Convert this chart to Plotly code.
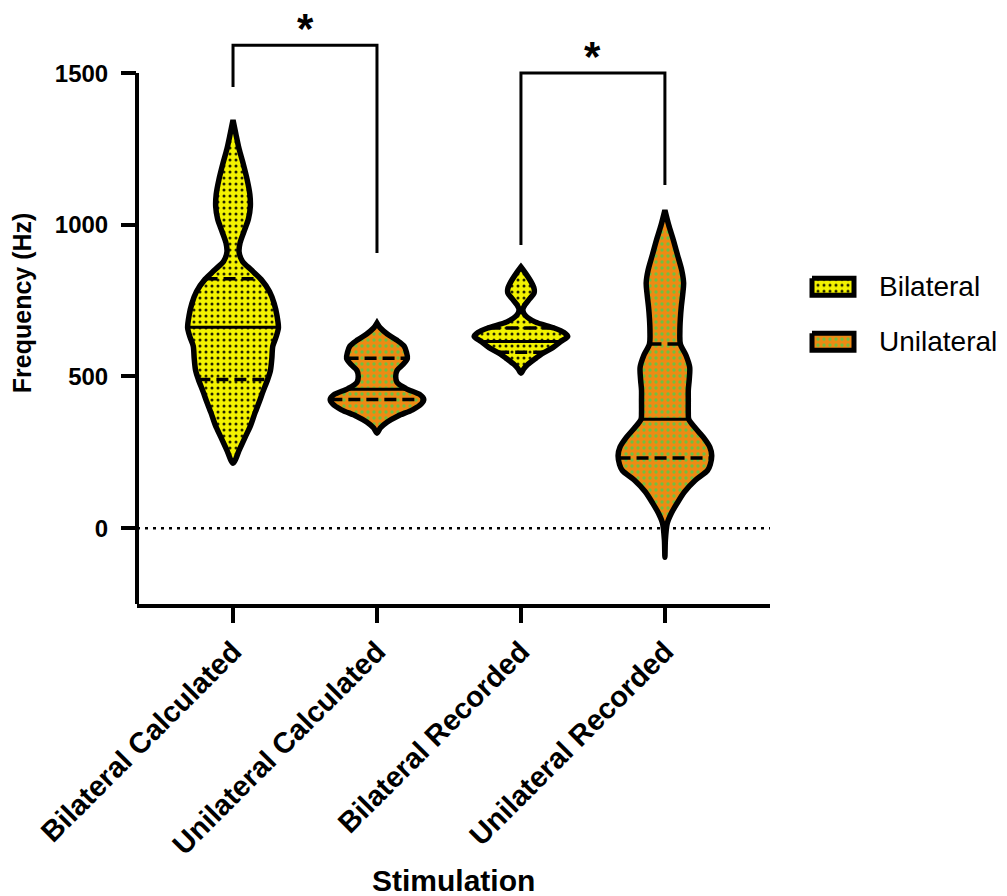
import numpy as np
import plotly.graph_objects as go

# ---------------- data ----------------
categories = ["Bilateral Calculated", "Unilateral Calculated",
              "Bilateral Recorded", "Unilateral Recorded"]
groups = ["Bilateral", "Unilateral", "Bilateral", "Unilateral"]
legend_names = ["Bilateral", "Unilateral"]

# violin density profiles: frequency level (Hz) -> relative density (0..1)
bc_levels = [214, 260, 300, 340, 380, 420, 450, 490, 520, 560, 600, 630, 660, 700, 740,
             780, 820, 850, 880, 910, 940, 980, 1020, 1060, 1100, 1150, 1200, 1250, 1300, 1345]
bc_density = [0, 0.14, 0.26, 0.38, 0.47, 0.57, 0.64, 0.74, 0.80, 0.83, 0.85, 0.92, 0.97, 0.94, 0.88,
              0.78, 0.60, 0.40, 0.20, 0.13, 0.15, 0.24, 0.33, 0.37, 0.36, 0.30, 0.22, 0.13, 0.06, 0]

uc_levels = [313, 330, 350, 370, 390, 410, 425, 440, 460, 480, 500, 520, 540, 560, 580,
             600, 620, 640, 660, 676]
uc_density = [0, 0.07, 0.22, 0.45, 0.76, 0.95, 1.0, 0.92, 0.62, 0.43, 0.40, 0.43, 0.56, 0.65, 0.63,
              0.58, 0.42, 0.22, 0.07, 0]

br_levels = [511, 525, 540, 560, 575, 595, 615, 632, 645, 660, 680, 700, 719, 735, 755,
             775, 790, 811, 840, 861]
br_density = [0, 0.06, 0.15, 0.32, 0.45, 0.68, 0.85, 1.0, 0.92, 0.70, 0.30, 0.10, 0.04, 0.08, 0.18,
              0.28, 0.28, 0.22, 0.10, 0]

ur_levels = [-96, -40, 16, 50, 82, 120, 158, 190, 210, 240, 267, 300, 330, 359, 380, 420,
             455, 490, 530, 570, 607, 650, 690, 729, 770, 808, 850, 900, 950, 1000, 1048]
ur_density = [0, 0.01, 0.05, 0.14, 0.26, 0.42, 0.65, 0.91, 0.97, 1.0, 0.96, 0.82, 0.65, 0.51, 0.50, 0.50,
              0.50, 0.52, 0.53, 0.45, 0.33, 0.32, 0.33, 0.35, 0.38, 0.40, 0.36, 0.27, 0.18, 0.08, 0]

# quartiles: Q1, median, Q3
bc_quart = [490, 662, 822]
uc_quart = [424, 458, 560]
br_quart = [580, 615, 660]
ur_quart = [231, 359, 607]

# significance brackets: (left category, right category, left foot, right foot, top)
brackets = [(0, 1, 1454, 907, 1592), (2, 3, 933, 1131, 1500)]
sig_labels = ["*", "*"]

tick_vals_y = [0, 500, 1000, 1500]

# ---------------- styling ----------------
FONT = "Liberation Sans, Arial, sans-serif"
HALF = 0.325  # max half-width of a violin in category units
fill_styles = {
    "Bilateral": dict(bg="#F3F200", fg="#222200", sol=0.2),
    "Unilateral": dict(bg="#EE8A14", fg="#6FC040", sol=0.25),
}


def pattern(g):
    st = fill_styles[g]
    return dict(shape=".", fgcolor=st["fg"], bgcolor=st["bg"],
                size=6, solidity=st["sol"], fillmode="replace")


profiles = [(bc_levels, bc_density, bc_quart),
            (uc_levels, uc_density, uc_quart),
            (br_levels, br_density, br_quart),
            (ur_levels, ur_density, ur_quart)]

fig = go.Figure()

for i, (lv, dn, qs) in enumerate(profiles):
    lv = np.asarray(lv, float)
    dn = np.asarray(dn, float)
    g = groups[i]
    xs = list(i + HALF * dn) + list(i - HALF * dn[::-1])
    ys = list(lv) + list(lv[::-1])
    fig.add_trace(go.Scatter(
        x=xs, y=ys, mode="lines", fill="toself",
        fillcolor=fill_styles[g]["bg"], fillpattern=pattern(g),
        line=dict(color="black", width=5.5, shape="spline", smoothing=0.8),
        name=g, showlegend=False, hoverinfo="skip"))
    for k, q in enumerate(qs):
        hw = HALF * float(np.interp(q, lv, dn))
        fig.add_trace(go.Scatter(
            x=[i - hw, i + hw], y=[q, q], mode="lines",
            line=dict(color="black", width=3.5 if k != 1 else 3,
                      dash="solid" if k == 1 else "12px,6px"),
            showlegend=False, hoverinfo="skip"))

# dotted zero line
fig.add_trace(go.Scatter(x=[-0.667, 3.73], y=[0, 0], mode="lines",
                         line=dict(color="black", width=2.5, dash="3px,5px"),
                         showlegend=False, hoverinfo="skip"))

# ---- custom legend swatches drawn on a small helper axis (pixel-like units) ----
legend_rows = [(278, 295), (333, 350)]
for name, (y0, y1) in zip(legend_names, legend_rows):
    fig.add_trace(go.Scatter(
        x=[3, 45, 45, 3, 3], y=[y0, y0, y1, y1, y0], mode="lines", fill="toself",
        fillcolor=fill_styles[name]["bg"], fillpattern=pattern(name),
        line=dict(color="black", width=5), xaxis="x2", yaxis="y2",
        showlegend=False, hoverinfo="skip"))

shapes = []
# y-axis line (from the bottom of the axis up to 1500)
shapes.append(dict(type="line", xref="paper", yref="y", x0=0, x1=0, y0=-250, y1=1500,
                   line=dict(color="black", width=4)))
annotations = []
for (a, b, fa, fb, top), lab in zip(brackets, sig_labels):
    shapes.append(dict(type="path", xref="x", yref="y",
                       path=f"M{a},{fa} L{a},{top} L{b},{top} L{b},{fb}",
                       line=dict(color="black", width=3)))
    annotations.append(dict(x=(a + b) / 2, y=top, xref="x", yref="y", text=lab,
                            showarrow=False, xanchor="center", yanchor="middle", yshift=17,
                            font=dict(family=FONT, size=42, color="black", weight="bold")))

W_PLOT = 870.0  # width of paper area in px (l=137, r=0)
H_PLOT = 567.0


def px_to_paper_x(px):
    return (px - 137) / W_PLOT


def py_to_paper_y(py):
    return (603.8 - py) / H_PLOT


annotations.append(dict(x=px_to_paper_x(22), y=py_to_paper_y(303), xref="paper", yref="paper",
                        xanchor="center", yanchor="middle",
                        text="<b>Frequency (Hz)</b>", textangle=-90, showarrow=False,
                        font=dict(family=FONT, size=25, color="black")))
annotations.append(dict(x=px_to_paper_x(453), y=py_to_paper_y(880), xref="paper", yref="paper",
                        xanchor="center", yanchor="middle",
                        text="<b>Stimulation</b>", showarrow=False,
                        font=dict(family=FONT, size=30, color="black")))
for name, (y0, y1) in zip(legend_names, legend_rows):
    annotations.append(dict(x=px_to_paper_x(877), y=py_to_paper_y((y0 + y1) / 2),
                            xref="paper", yref="paper", xanchor="left", yanchor="middle",
                            text=name, showarrow=False,
                            font=dict(family=FONT, size=28, color="black")))

fig.update_layout(
    width=1007, height=896,
    margin=dict(l=137, r=0, t=37, b=292, autoexpand=False),
    paper_bgcolor="white", plot_bgcolor="white",
    font=dict(family=FONT, color="black"),
    showlegend=False,
    xaxis=dict(domain=[0, px_to_paper_x(770)],
               range=[-0.667, 3.73], tickmode="array", tickvals=[0, 1, 2, 3],
               ticktext=categories, tickangle=-45, showgrid=False, zeroline=False,
               showline=True, linecolor="black", linewidth=4,
               ticks="outside", ticklen=15, tickwidth=3.5, tickcolor="black",
               tickfont=dict(family=FONT, size=29, color="black", weight="bold")),
    yaxis=dict(range=[-250, 1619], tickmode="array", tickvals=tick_vals_y,
               showgrid=False, zeroline=False, showline=False,
               ticks="outside", ticklen=15, tickwidth=3.5, tickcolor="black",
               ticklabelstandoff=8,
               tickfont=dict(family=FONT, size=24, color="black", weight="bold")),
    xaxis2=dict(domain=[px_to_paper_x(809), px_to_paper_x(857)], range=[0, 48],
                visible=False, anchor="y2", fixedrange=True),
    yaxis2=dict(domain=[py_to_paper_y(370), py_to_paper_y(258)], range=[370, 258],
                visible=False, anchor="x2", fixedrange=True),
    shapes=shapes, annotations=annotations,
)

fig.write_html("out.html", config={"displayModeBar": False},
               post_script="document.body.style.margin='0px';")
